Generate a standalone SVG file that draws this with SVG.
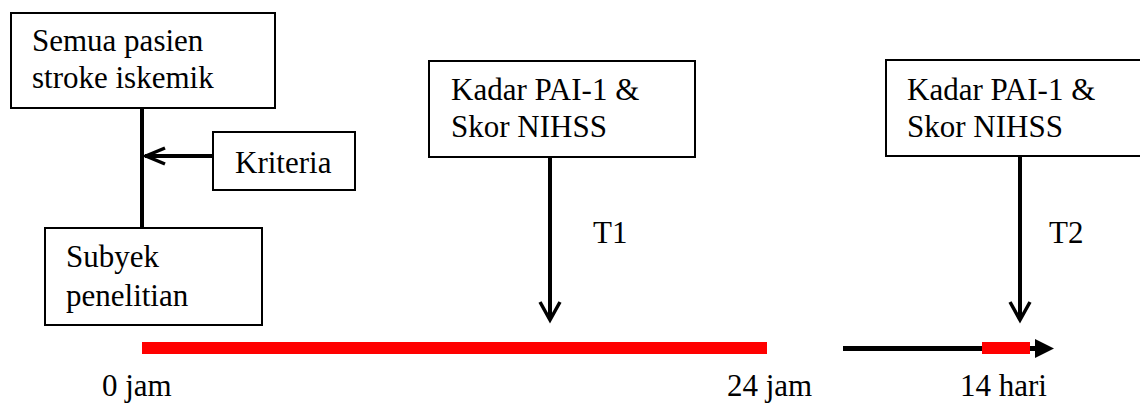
<svg xmlns="http://www.w3.org/2000/svg" width="1140" height="407" viewBox="0 0 1140 407">
<style>
.box{fill:#fff;stroke:#000;stroke-width:2}
text{font-family:'Liberation Serif','Times New Roman',Times,serif;font-size:31px;fill:#000}
.ln{stroke:#000;stroke-width:4;fill:none}
.hd{stroke:#000;stroke-width:3.5;fill:none;stroke-linejoin:miter}
</style>
<rect width="1140" height="407" fill="#fff"/>
<g id="connectors">
<line class="ln" x1="142" y1="108" x2="142" y2="228"/>
<line class="ln" x1="213" y1="156" x2="145" y2="156"/>
<path class="hd" d="M165,148 L146,156 L165,164"/>
<line class="ln" x1="550" y1="157" x2="550" y2="318"/>
<path class="hd" d="M540,302 L550,320 L560,302"/>
<line class="ln" x1="1020" y1="157" x2="1020" y2="318"/>
<path class="hd" d="M1010,302 L1020,320 L1030,302"/>
</g>
<g id="timeline">
<rect x="142" y="342" width="625" height="12" fill="#ff0000"/>
<rect x="843" y="346" width="192" height="5" fill="#000"/>
<rect x="982" y="342" width="48" height="12" fill="#ff0000"/>
<polygon points="1035,339 1054,348.5 1035,358" fill="#000"/>
</g>
<g id="n1">
<rect class="box" x="11" y="13" width="264" height="95"/>
<text x="32" y="51">Semua pasien</text>
<text x="32" y="88">stroke iskemik</text>
</g>
<g id="n2">
<rect class="box" x="213" y="132" width="142" height="58"/>
<text x="235" y="173">Kriteria</text>
</g>
<g id="n3">
<rect class="box" x="45" y="228" width="217" height="97"/>
<text x="66" y="267">Subyek</text>
<text x="66" y="306">penelitian</text>
</g>
<g id="n4">
<rect class="box" x="429" y="61" width="266" height="96"/>
<text x="451" y="100">Kadar PAI-1 &amp;</text>
<text x="451" y="137">Skor NIHSS</text>
</g>
<g id="n5">
<rect class="box" x="886" y="60" width="270" height="96"/>
<text x="907" y="100">Kadar PAI-1 &amp;</text>
<text x="907" y="137">Skor NIHSS</text>
</g>
<g id="labels">
<text x="593" y="243">T1</text>
<text x="1049" y="243">T2</text>
<text x="102" y="396">0 jam</text>
<text x="727" y="396">24 jam</text>
<text x="960" y="396">14 hari</text>
</g>
</svg>
